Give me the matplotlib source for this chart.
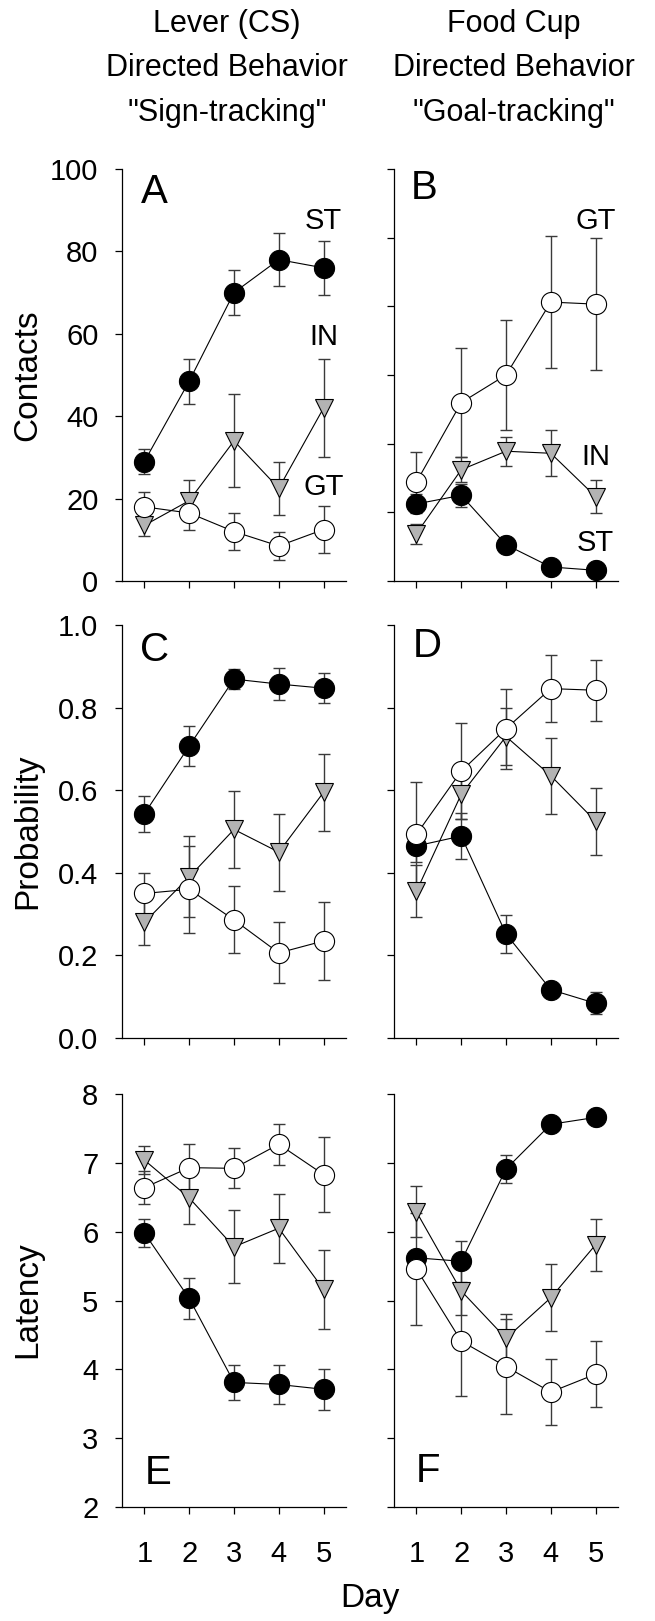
import matplotlib
matplotlib.use('Agg')
import matplotlib.pyplot as plt
import numpy as np

plt.rcParams['font.family'] = ['Liberation Sans', 'DejaVu Sans']

days = [1, 2, 3, 4, 5]

# A - lever contacts
a_st = [29, 48.5, 70, 78, 76]
a_st_err = [3, 5.5, 5.5, 6.5, 6.5]
a_in = [13.5, 19.5, 34, 22.5, 42]
a_in_err = [2.5, 5, 11.3, 6.4, 12]
a_gt = [18, 16.5, 12, 8.5, 12.5]
a_gt_err = [3.5, 4.2, 4.4, 3.3, 5.6]

# B - food cup contacts
b_st = [18.7, 20.8, 8.8, 3.4, 2.6]
b_st_err = [2.3, 2.8, 1, 0.8, 0.6]
b_in = [11.5, 27, 31.5, 31, 20.5]
b_in_err = [2.4, 3, 3.5, 5.6, 4.1]
b_gt = [24, 43.3, 50, 67.7, 67.2]
b_gt_err = [7.3, 13.3, 13.4, 16, 16]

# C - lever probability
c_st = [0.543, 0.707, 0.869, 0.857, 0.847]
c_st_err = [0.044, 0.049, 0.025, 0.038, 0.036]
c_in = [0.28, 0.39, 0.505, 0.45, 0.595]
c_in_err = [0.055, 0.098, 0.093, 0.093, 0.093]
c_gt = [0.35, 0.36, 0.286, 0.206, 0.235]
c_gt_err = [0.05, 0.105, 0.081, 0.074, 0.095]

# D - food cup probability
d_st = [0.465, 0.489, 0.252, 0.117, 0.084]
d_st_err = [0.04, 0.055, 0.045, 0.015, 0.027]
d_in = [0.355, 0.59, 0.73, 0.635, 0.525]
d_in_err = [0.063, 0.06, 0.069, 0.092, 0.081]
d_gt = [0.493, 0.646, 0.749, 0.846, 0.842]
d_gt_err = [0.127, 0.116, 0.097, 0.082, 0.074]

# E - lever latency
e_st = [5.98, 5.03, 3.81, 3.78, 3.71]
e_st_err = [0.2, 0.3, 0.25, 0.29, 0.3]
e_in = [7.04, 6.49, 5.78, 6.05, 5.16]
e_in_err = [0.2, 0.38, 0.53, 0.5, 0.57]
e_gt = [6.64, 6.93, 6.92, 7.27, 6.83]
e_gt_err = [0.24, 0.35, 0.29, 0.3, 0.54]

# F - food cup latency
f_st = [5.62, 5.57, 6.91, 7.56, 7.66]
f_st_err = [0.1, 0.3, 0.21, 0.05, 0.05]
f_in = [6.29, 5.14, 4.45, 5.04, 5.81]
f_in_err = [0.37, 0.35, 0.36, 0.49, 0.38]
f_gt = [5.46, 4.41, 4.04, 3.67, 3.93]
f_gt_err = [0.81, 0.8, 0.69, 0.48, 0.48]

W, H = 655, 1621
fig = plt.figure(figsize=(W/100, H/100), dpi=100)

def box(left, top, right, bottom):
    # pixel box -> figure fraction
    return [left/W, 1-bottom/H, (right-left)/W, (bottom-top)/H]

def panel(rect, st, st_e, inn, in_e, gt, gt_e, ylim, yticks, ylabels, xlabels, letter, lpos):
    ax = fig.add_axes(rect)
    ekw = dict(fmt='none', ecolor='#3a3a3a', elinewidth=1, capsize=4.5, capthick=1)
    ax.errorbar(days, st, yerr=st_e, zorder=2, **ekw)
    ax.errorbar(days, inn, yerr=in_e, zorder=2, **ekw)
    ax.errorbar(days, gt, yerr=gt_e, zorder=2, **ekw)
    ax.plot(days, st, '-o', color='black', lw=0.8, ms=14.5, mfc='black', mec='black', mew=0.8, zorder=3)
    ax.plot(days, inn, '-v', color='black', lw=0.8, ms=13.5, mfc='#b3b3b3', mec='black', mew=0.8, zorder=4)
    ax.plot(days, gt, '-o', color='black', lw=0.8, ms=14.5, mfc='white', mec='black', mew=0.8, zorder=5)
    ax.set_xlim(0.5, 5.5)
    ax.set_ylim(ylim)
    ax.set_xticks(days)
    ax.set_yticks(yticks)
    if xlabels:
        ax.set_xticklabels([str(d) for d in days])
    else:
        ax.set_xticklabels([])
    if ylabels is None:
        ax.set_yticklabels([])
    else:
        ax.set_yticklabels(ylabels)
    for s in ['top', 'right']:
        ax.spines[s].set_visible(False)
    for s in ['left', 'bottom']:
        ax.spines[s].set_linewidth(0.9)
    ax.tick_params(axis='both', direction='out', length=5, width=0.9, labelsize=21)
    ax.tick_params(axis='y', pad=12)
    ax.tick_params(axis='x', pad=19)
    ax.text(lpos[0], lpos[1], letter, fontsize=29, ha='center', va='center')
    return ax

L1, R1 = 122, 346
L2, R2 = 394, 618
rows = [(169, 581), (625, 1038), (1094, 1507)]

yt_cnt = [0, 20, 40, 60, 80, 100]
axA = panel(box(L1, rows[0][0], R1, rows[0][1]), a_st, a_st_err, a_in, a_in_err, a_gt, a_gt_err,
            (0, 100), yt_cnt, [str(v) for v in yt_cnt], False, 'A', (1.22, 94.5))
axB = panel(box(L2, rows[0][0], R2, rows[0][1]), b_st, b_st_err, b_in, b_in_err, b_gt, b_gt_err,
            (0, 100), np.linspace(0, 100, 7), None, False, 'B', (1.18, 95.5))
axA.text(5, 87.3, 'ST', fontsize=21, ha='center', va='center')
axA.text(5, 59.3, 'IN', fontsize=21, ha='center', va='center')
axA.text(5, 22.7, 'GT', fontsize=21, ha='center', va='center')
axB.text(5, 87.3, 'GT', fontsize=21, ha='center', va='center')
axB.text(5, 30, 'IN', fontsize=21, ha='center', va='center')
axB.text(5, 9.3, 'ST', fontsize=21, ha='center', va='center')

yt_p = [0.0, 0.2, 0.4, 0.6, 0.8, 1.0]
panel(box(L1, rows[1][0], R1, rows[1][1]), c_st, c_st_err, c_in, c_in_err, c_gt, c_gt_err,
      (0, 1), yt_p, ['%.1f' % v for v in yt_p], False, 'C', (1.22, 0.94))
panel(box(L2, rows[1][0], R2, rows[1][1]), d_st, d_st_err, d_in, d_in_err, d_gt, d_gt_err,
      (0, 1), yt_p, None, False, 'D', (1.25, 0.948))

yt_l = [2, 3, 4, 5, 6, 7, 8]
panel(box(L1, rows[2][0], R1, rows[2][1]), e_st, e_st_err, e_in, e_in_err, e_gt, e_gt_err,
      (2, 8), yt_l, [str(v) for v in yt_l], True, 'E', (1.3, 2.5))
panel(box(L2, rows[2][0], R2, rows[2][1]), f_st, f_st_err, f_in, f_in_err, f_gt, f_gt_err,
      (2, 8), yt_l, None, True, 'F', (1.25, 2.53))

# column titles
t1 = ['Lever (CS)', 'Directed Behavior', '"Sign-tracking"']
t2 = ['Food Cup', 'Directed Behavior', '"Goal-tracking"']
for i, yb in enumerate([32, 76, 121]):
    fig.text(227/W, 1-yb/H, t1[i], fontsize=22, ha='center', va='baseline')
    fig.text(514/W, 1-yb/H, t2[i], fontsize=22, ha='center', va='baseline')

# axis labels
fig.text(28/W, 1-375/H, 'Contacts', fontsize=24, rotation=90, ha='center', va='center')
fig.text(28/W, 1-831/H, 'Probability', fontsize=24, rotation=90, ha='center', va='center')
fig.text(28/W, 1-1300/H, 'Latency', fontsize=24, rotation=90, ha='center', va='center')
fig.text(370/W, 1-1607/H, 'Day', fontsize=24, ha='center', va='baseline')

fig.savefig('out.png', dpi=100)
